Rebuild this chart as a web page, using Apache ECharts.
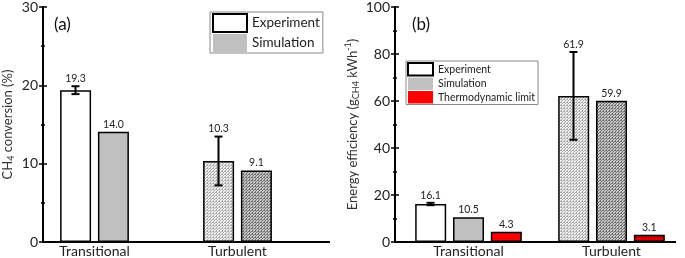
<!DOCTYPE html>
<html>
<head>
<meta charset="utf-8">
<script src="https://cdn.jsdelivr.net/npm/echarts@6/dist/echarts.min.js"></script>
<style>
  html, body { margin: 0; padding: 0; background: #fff; }
  #main { width: 685px; height: 258px; }
</style>
</head>
<body>
<div id="main"></div>
<script>
// data
const categories = ['Transitional', 'Turbulent']
const convExp = [19.3, 10.3]
const convExpErr = [0.5, 3.1]
const convSim = [14.0, 9.1]
const effExp = [16.1, 61.9]
const effExpErr = [0.5, 18.6]
const effSim = [10.5, 59.9]
const effThermo = [4.3, 3.1]
const convTicks = [0, 30, 10]
const effTicks = [0, 100, 20]

const FONT = 'Lato'

function makePattern(bg, dot) {
    let c = document.createElement('canvas')
    c.width = 3
    c.height = 3
    let ctx = c.getContext('2d')
    ctx.fillStyle = bg
    ctx.fillRect(0, 0, 3, 3)
    ctx.fillStyle = dot
    ctx.fillRect(0, 0, 1, 1)
    ctx.fillRect(2, 0, 1, 1)
    ctx.fillRect(1, 1, 1, 1)
    ctx.fillRect(0, 2, 1, 1)
    return { image: c, repeat: 'repeat' }
}
const patLight = makePattern('#f2f2f2', '#a8a8a8')
const patDark = makePattern('#c8c8c8', '#6e6e6e')
const patRed = makePattern('#ff0000', '#a00000')

const border = { borderColor: '#000', borderWidth: 1.5 }

function styled(values, plain, turb) {
    return values.map((v, i) => ({
        value: v,
        itemStyle: { color: i === 1 ? turb : plain }
    }))
}

function frameAxes(gridIndex, ticks, name, nameGap, rich) {
    let line = { show: true, lineStyle: { color: '#000', width: 2 } }
    let xs = ['bottom', 'top'].map(p => ({
        gridIndex: gridIndex, type: 'value', position: p, min: 0, max: 1,
        axisLine: line, axisTick: { show: false }, axisLabel: { show: false }, splitLine: { show: false }
    }))
    let ys = ['left', 'right'].map(p => ({
        gridIndex: gridIndex, type: 'value', position: p,
        min: ticks[0], max: ticks[1], interval: ticks[2],
        axisLine: line,
        axisTick: { show: true, inside: false, length: 4, lineStyle: { color: '#000', width: 1.5 } },
        minorTick: { show: true, splitNumber: 2, length: 2, lineStyle: { color: '#000', width: 1.5 } },
        axisLabel: { show: p === 'left', margin: 5, color: '#222', fontSize: 14, fontFamily: FONT },
        splitLine: { show: false },
        name: p === 'left' ? name : '',
        nameLocation: 'middle',
        nameGap: nameGap,
        nameTextStyle: { color: '#333', fontSize: 13, fontFamily: FONT, rich: rich }
    }))
    return { xs, ys }
}

const subRich = {
    n: { fontSize: 13, lineHeight: 17, fontFamily: FONT, color: '#333' },
    s: { fontSize: 9, lineHeight: 10, verticalAlign: 'bottom', fontFamily: FONT, color: '#333' },
    p: { fontSize: 9, lineHeight: 10, verticalAlign: 'top', fontFamily: FONT, color: '#333' }
}

const fa = frameAxes(0, convTicks, '{n|CH}{s|4}{n| conversion (%)}', 27, subRich)
const fb = frameAxes(2, effTicks, '{n|Energy efficiency (g}{s|CH4}{n| kWh}{p|-1}{n|)}', 34, subRich)

function catAxis(gridIndex) {
    return {
        gridIndex: gridIndex, type: 'category', data: categories,
        axisLine: { show: false }, axisTick: { show: false },
        axisLabel: { color: '#222', fontSize: 14, fontFamily: FONT, margin: 2 }
    }
}
function hiddenY(gridIndex, ticks) {
    return { gridIndex: gridIndex, type: 'value', min: ticks[0], max: ticks[1], show: false }
}

const labelStyle = {
    show: true, position: 'top', distance: 2, color: '#222', fontSize: 10.5, fontFamily: FONT,
    formatter: p => p.value.toFixed(1)
}

function errorSeries(xi, yi, values, errs, offset) {
    return {
        type: 'custom',
        xAxisIndex: xi, yAxisIndex: yi,
        data: values.map((v, i) => [i, v, errs[i]]),
        z: 10,
        renderItem(params, api) {
            let i = api.value(0), v = api.value(1), e = api.value(2)
            let top = api.coord([i, v + e])
            let bot = api.coord([i, v - e])
            let x = top[0] + offset
            let st = { stroke: '#000', lineWidth: 2 }
            return {
                type: 'group',
                children: [
                    { type: 'line', shape: { x1: x, y1: top[1], x2: x, y2: bot[1] }, style: st },
                    { type: 'line', shape: { x1: x - 4, y1: top[1], x2: x + 4, y2: top[1] }, style: st },
                    { type: 'line', shape: { x1: x - 4, y1: bot[1], x2: x + 4, y2: bot[1] }, style: st },
                    {
                        type: 'text',
                        style: {
                            text: v.toFixed(1), x: x, y: top[1] - 2,
                            textAlign: 'center', textVerticalAlign: 'bottom',
                            fill: '#222', fontSize: 10.5, fontFamily: FONT
                        }
                    }
                ]
            }
        }
    }
}

let chart = echarts.init(document.getElementById('main'), null, { renderer: 'canvas' })
let option = {
    animation: false,
    grid: [
        { left: 40, width: 289, top: 6, height: 236 },
        { left: 23, width: 286, top: 6, height: 236 },
        { left: 395, width: 280, top: 6, height: 236 },
        { left: 397, width: 286, top: 6, height: 236 }
    ],
    xAxis: [fa.xs[0], fa.xs[1], catAxis(1), fb.xs[0], fb.xs[1], catAxis(3)],
    yAxis: [fa.ys[0], fa.ys[1], hiddenY(1, convTicks), fb.ys[0], fb.ys[1], hiddenY(3, effTicks)],
    legend: [
        {
            orient: 'vertical', left: 210, top: 12, padding: [1, 3, 1, 2], itemGap: 1,
            itemWidth: 34, itemHeight: 18, borderColor: '#888', borderWidth: 1,
            textStyle: { color: '#222', fontSize: 13.5, fontFamily: FONT },
            data: [
                { name: 'Experiment', icon: 'rect', itemStyle: { color: '#fff', borderColor: '#000', borderWidth: 2 } },
                { name: 'Simulation', icon: 'rect', itemStyle: { color: '#c0c0c0', borderWidth: 0 } }
            ],
            selectedMode: false
        },
        {
            orient: 'vertical', left: 406, top: 61, padding: [1, 3, 1, 1], itemGap: 1,
            itemWidth: 25, itemHeight: 12.5, borderColor: '#888', borderWidth: 1,
            textStyle: { color: '#222', fontSize: 10.5, fontFamily: FONT },
            data: [
                { name: 'Experiment', icon: 'rect', itemStyle: { color: '#fff', borderColor: '#000', borderWidth: 2 } },
                { name: 'Simulation', icon: 'rect', itemStyle: { color: '#c0c0c0', borderWidth: 0 } },
                { name: 'Thermodynamic limit', icon: 'rect', itemStyle: { color: '#ff0000', borderWidth: 0 } }
            ],
            selectedMode: false
        }
    ],
    graphic: [
        { type: 'text', left: 54, top: 16, style: { text: '(a)', fontSize: 17, fontFamily: FONT, fill: '#111' } },
        { type: 'text', left: 412, top: 16, style: { text: '(b)', fontSize: 17, fontFamily: FONT, fill: '#111' } }
    ],
    series: [
        {
            name: 'Experiment', type: 'bar', xAxisIndex: 2, yAxisIndex: 2,
            barWidth: 31, barGap: '22%',
            data: styled(convExp, '#fff', patLight), itemStyle: border
        },
        {
            name: 'Simulation', type: 'bar', xAxisIndex: 2, yAxisIndex: 2,
            barWidth: 31, barGap: '22%',
            data: styled(convSim, '#c0c0c0', patDark), itemStyle: border, label: labelStyle
        },
        errorSeries(2, 2, convExp, convExpErr, -19),
        {
            name: 'Experiment', type: 'bar', xAxisIndex: 5, yAxisIndex: 5,
            barWidth: 31, barGap: '22%',
            data: styled(effExp, '#fff', patLight), itemStyle: border
        },
        {
            name: 'Simulation', type: 'bar', xAxisIndex: 5, yAxisIndex: 5,
            barWidth: 31, barGap: '22%',
            data: styled(effSim, '#c0c0c0', patDark), itemStyle: border, label: labelStyle
        },
        {
            name: 'Thermodynamic limit', type: 'bar', xAxisIndex: 5, yAxisIndex: 5,
            barWidth: 31, barGap: '22%',
            data: styled(effThermo, '#ff0000', patRed), itemStyle: border, label: labelStyle
        },
        errorSeries(5, 5, effExp, effExpErr, -38)
    ]
}
chart.setOption(option)
window.addEventListener('resize', () => {
    chart.resize()
})
</script>
</body>
</html>
